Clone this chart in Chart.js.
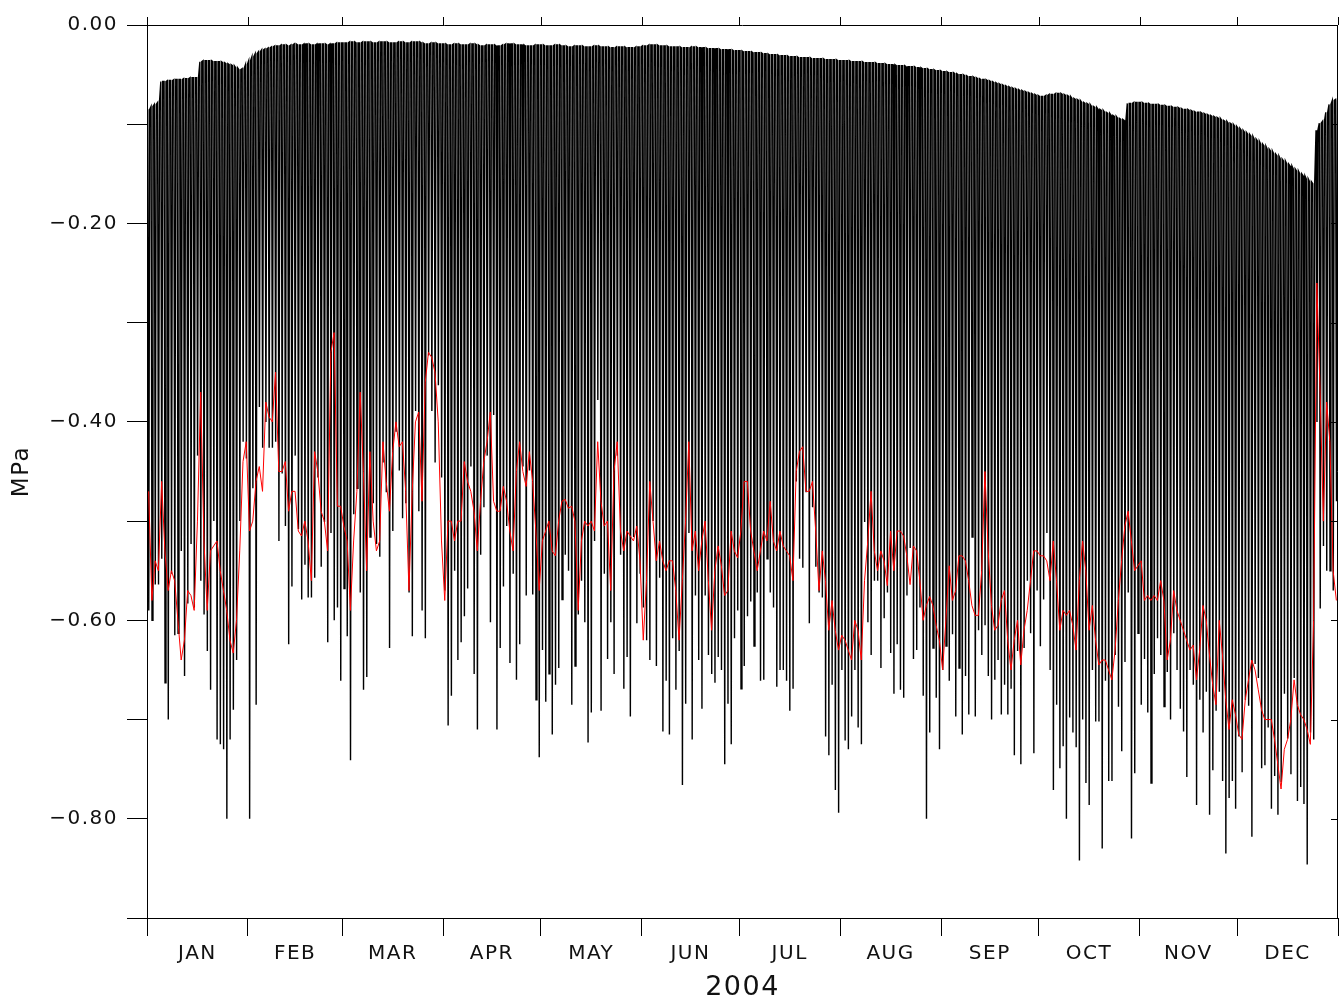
<!DOCTYPE html>
<html lang="en">
<head>
    <meta charset="UTF-8">
    <title>Water potential 2004</title>
    <script src="https://cdn.jsdelivr.net/npm/chart.js"></script>
    <style>
        body { margin: 0; background: #fff; }
        canvas { display: block; }
    </style>
</head>
<body>
    <canvas id="mpaChart" width="1340" height="1000"></canvas>

    <script>
        // axis setup: day of year 2004 (leap year)
        const monthNames = ['JAN', 'FEB', 'MAR', 'APR', 'MAY', 'JUN', 'JUL', 'AUG', 'SEP', 'OCT', 'NOV', 'DEC'];
        const monthStarts = [0, 31, 60, 91, 121, 152, 182, 213, 244, 274, 305, 335, 366];
        const yearLabel = '2004';
        const unitLabel = 'MPa';

        // hours of the daily cycle (pre-dawn max, midday min, evening recovery)
        const dawnHour = 6;
        const middayHour = 13;
        const duskHour = 20;

        // daily maximum (night) of the black series, MPa
        const dailyMax = [
            // Jan
            -0.085, -0.082, -0.080, -0.078, -0.057, -0.057, -0.056, -0.056, -0.055, -0.055,
            -0.055, -0.054, -0.054, -0.053, -0.053, -0.053, -0.037, -0.036, -0.036, -0.036,
            -0.037, -0.037, -0.037, -0.038, -0.039, -0.040, -0.041, -0.043, -0.045, -0.044, -0.040,
            // Feb
            -0.036, -0.032, -0.029, -0.027, -0.025, -0.024, -0.023, -0.022, -0.021, -0.021,
            -0.020, -0.020, -0.021, -0.020, -0.019, -0.020, -0.020, -0.019, -0.019, -0.020,
            -0.020, -0.019, -0.019, -0.019, -0.020, -0.019, -0.019, -0.018, -0.018,
            // Mar
            -0.018, -0.018, -0.017, -0.017, -0.018, -0.018, -0.017, -0.017, -0.017, -0.018,
            -0.018, -0.017, -0.017, -0.017, -0.018, -0.018, -0.018, -0.017, -0.017, -0.018,
            -0.018, -0.017, -0.017, -0.017, -0.018, -0.019, -0.019, -0.018, -0.018, -0.019, -0.019,
            // Apr
            -0.019, -0.020, -0.020, -0.019, -0.019, -0.020, -0.020, -0.020, -0.019, -0.019,
            -0.020, -0.021, -0.021, -0.020, -0.020, -0.020, -0.021, -0.021, -0.020, -0.019,
            -0.019, -0.019, -0.020, -0.020, -0.020, -0.021, -0.021, -0.021, -0.020, -0.020,
            // May
            -0.020, -0.021, -0.021, -0.021, -0.020, -0.020, -0.021, -0.021, -0.022, -0.022,
            -0.021, -0.021, -0.021, -0.022, -0.022, -0.022, -0.021, -0.021, -0.022, -0.022,
            -0.022, -0.023, -0.023, -0.022, -0.022, -0.022, -0.023, -0.023, -0.023, -0.022, -0.022,
            // Jun
            -0.021, -0.021, -0.020, -0.020, -0.020, -0.021, -0.021, -0.021, -0.022, -0.022,
            -0.022, -0.022, -0.023, -0.023, -0.023, -0.022, -0.022, -0.023, -0.023, -0.023,
            -0.024, -0.024, -0.024, -0.024, -0.025, -0.025, -0.025, -0.025, -0.026, -0.026,
            // Jul
            -0.026, -0.027, -0.027, -0.027, -0.028, -0.028, -0.028, -0.029, -0.029, -0.030,
            -0.030, -0.030, -0.031, -0.031, -0.031, -0.032, -0.032, -0.032, -0.033, -0.033,
            -0.033, -0.033, -0.034, -0.034, -0.034, -0.034, -0.035, -0.035, -0.035, -0.035, -0.036,
            // Aug
            -0.036, -0.036, -0.036, -0.037, -0.037, -0.037, -0.037, -0.038, -0.038, -0.038,
            -0.038, -0.039, -0.039, -0.039, -0.040, -0.040, -0.040, -0.041, -0.041, -0.041,
            -0.042, -0.042, -0.042, -0.043, -0.043, -0.044, -0.044, -0.045, -0.045, -0.046, -0.046,
            // Sep
            -0.047, -0.047, -0.048, -0.048, -0.049, -0.050, -0.050, -0.051, -0.052, -0.052,
            -0.053, -0.054, -0.055, -0.055, -0.056, -0.057, -0.058, -0.059, -0.060, -0.061,
            -0.062, -0.063, -0.064, -0.065, -0.066, -0.067, -0.068, -0.069, -0.070, -0.071,
            // Oct
            -0.072, -0.072, -0.071, -0.070, -0.070, -0.069, -0.069, -0.070, -0.071, -0.072,
            -0.074, -0.075, -0.076, -0.078, -0.079, -0.080, -0.082, -0.083, -0.085, -0.086,
            -0.088, -0.089, -0.091, -0.092, -0.094, -0.095, -0.096, -0.079, -0.079, -0.078, -0.078,
            // Nov
            -0.078, -0.079, -0.079, -0.080, -0.080, -0.080, -0.081, -0.081, -0.082, -0.082,
            -0.083, -0.083, -0.084, -0.085, -0.085, -0.086, -0.087, -0.088, -0.088, -0.089,
            -0.090, -0.091, -0.092, -0.093, -0.094, -0.096, -0.097, -0.099, -0.100, -0.102,
            // Dec
            -0.104, -0.106, -0.108, -0.110, -0.112, -0.115, -0.117, -0.120, -0.122, -0.125,
            -0.127, -0.130, -0.132, -0.135, -0.137, -0.140, -0.142, -0.145, -0.147, -0.150,
            -0.152, -0.155, -0.158, -0.160, -0.106, -0.099, -0.097, -0.088, -0.080, -0.076, -0.075
        ];

        // daily minimum (midday) of the black series, MPa
        const dailyMin = [
            // Jan
            -0.590, -0.600, -0.564, -0.564, -0.538, -0.663, -0.700, -0.553, -0.615, -0.613,
            -0.530, -0.656, -0.583, -0.523, -0.587, -0.434, -0.560, -0.594, -0.631, -0.670,
            -0.500, -0.720, -0.725, -0.730, -0.800, -0.720, -0.690, -0.640, -0.500, -0.420, -0.437,
            // Feb
            -0.800, -0.467, -0.685, -0.385, -0.426, -0.400, -0.426, -0.426, -0.420, -0.520,
            -0.452, -0.505, -0.624, -0.566, -0.434, -0.508, -0.579, -0.544, -0.577, -0.577,
            -0.557, -0.456, -0.546, -0.501, -0.622, -0.512, -0.600, -0.587, -0.661,
            // Mar
            -0.568, -0.616, -0.741, -0.493, -0.467, -0.572, -0.670, -0.657, -0.516, -0.482,
            -0.523, -0.536, -0.441, -0.471, -0.628, -0.510, -0.410, -0.449, -0.497, -0.482,
            -0.572, -0.616, -0.389, -0.490, -0.590, -0.618, -0.333, -0.389, -0.441, -0.363, -0.456,
            // Apr
            -0.570, -0.706, -0.676, -0.550, -0.640, -0.622, -0.596, -0.568, -0.445, -0.654,
            -0.710, -0.534, -0.486, -0.434, -0.602, -0.393, -0.710, -0.628, -0.566, -0.505,
            -0.643, -0.553, -0.660, -0.624, -0.445, -0.575, -0.449, -0.574, -0.680, -0.738,
            // May
            -0.630, -0.682, -0.654, -0.715, -0.665, -0.648, -0.579, -0.534, -0.550, -0.685,
            -0.646, -0.594, -0.560, -0.602, -0.723, -0.693, -0.520, -0.378, -0.691, -0.553,
            -0.639, -0.602, -0.654, -0.434, -0.534, -0.669, -0.637, -0.697, -0.516, -0.603, -0.553,
            // Jun
            -0.587, -0.620, -0.640, -0.500, -0.646, -0.557, -0.712, -0.661, -0.715, -0.618,
            -0.670, -0.631, -0.766, -0.684, -0.512, -0.720, -0.575, -0.640, -0.689, -0.575,
            -0.635, -0.654, -0.663, -0.637, -0.650, -0.745, -0.684, -0.725, -0.618, -0.590,
            // Jul
            -0.669, -0.646, -0.596, -0.581, -0.626, -0.572, -0.661, -0.660, -0.538, -0.572,
            -0.587, -0.667, -0.650, -0.650, -0.661, -0.691, -0.669, -0.460, -0.538, -0.547,
            -0.471, -0.603, -0.486, -0.546, -0.572, -0.577, -0.717, -0.736, -0.665, -0.771, -0.794,
            // Aug
            -0.650, -0.721, -0.730, -0.697, -0.650, -0.708, -0.725, -0.501, -0.602, -0.635,
            -0.560, -0.560, -0.648, -0.598, -0.572, -0.633, -0.674, -0.624, -0.670, -0.678,
            -0.575, -0.527, -0.639, -0.630, -0.587, -0.676, -0.800, -0.713, -0.628, -0.678, -0.730,
            // Sep
            -0.650, -0.626, -0.661, -0.614, -0.697, -0.648, -0.715, -0.656, -0.695, -0.516,
            -0.697, -0.610, -0.635, -0.605, -0.656, -0.700, -0.660, -0.640, -0.695, -0.665,
            -0.695, -0.669, -0.736, -0.631, -0.745, -0.628, -0.560, -0.613, -0.734, -0.570,
            // Oct
            -0.626, -0.579, -0.512, -0.650, -0.771, -0.685, -0.749, -0.727, -0.800, -0.698,
            -0.713, -0.728, -0.842, -0.700, -0.764, -0.786, -0.650, -0.702, -0.702, -0.830,
            -0.661, -0.762, -0.762, -0.635, -0.687, -0.732, -0.642, -0.572, -0.820, -0.754, -0.613,
            // Nov
            -0.685, -0.639, -0.693, -0.764, -0.654, -0.618, -0.635, -0.687, -0.652, -0.700,
            -0.613, -0.650, -0.689, -0.712, -0.758, -0.650, -0.665, -0.786, -0.680, -0.713,
            -0.672, -0.796, -0.751, -0.691, -0.672, -0.762, -0.835, -0.779, -0.762, -0.790,
            // Dec
            -0.717, -0.753, -0.680, -0.686, -0.818, -0.644, -0.658, -0.749, -0.746, -0.708,
            -0.790, -0.757, -0.796, -0.763, -0.674, -0.719, -0.755, -0.658, -0.782, -0.768,
            -0.785, -0.846, -0.713, -0.720, -0.400, -0.588, -0.525, -0.550, -0.550, -0.570, -0.480
        ];

        // red series, one value per day, MPa
        const redDaily = [
            // Jan
            -0.47, -0.58, -0.54, -0.55, -0.46, -0.53, -0.57, -0.55, -0.56, -0.60,
            -0.64, -0.62, -0.57, -0.575, -0.59, -0.50, -0.37, -0.52, -0.59, -0.53,
            -0.525, -0.52, -0.55, -0.57, -0.59, -0.62, -0.633, -0.60, -0.53, -0.44, -0.42,
            // Feb
            -0.51, -0.50, -0.46, -0.445, -0.47, -0.38, -0.395, -0.40, -0.35, -0.45,
            -0.45, -0.44, -0.49, -0.47, -0.47, -0.51, -0.515, -0.50, -0.52, -0.56,
            -0.43, -0.45, -0.49, -0.50, -0.53, -0.33, -0.31, -0.485, -0.485,
            // Mar
            -0.505, -0.52, -0.59, -0.52, -0.47, -0.37, -0.45, -0.55, -0.43, -0.50,
            -0.53, -0.52, -0.42, -0.46, -0.49, -0.43, -0.40, -0.425, -0.42, -0.47,
            -0.57, -0.47, -0.40, -0.39, -0.48, -0.36, -0.33, -0.335, -0.35, -0.40, -0.52,
            // Apr
            -0.58, -0.50, -0.50, -0.52, -0.50, -0.50, -0.44, -0.46, -0.47, -0.49,
            -0.53, -0.48, -0.44, -0.42, -0.39, -0.48, -0.49, -0.49, -0.465, -0.48,
            -0.51, -0.53, -0.45, -0.42, -0.45, -0.465, -0.43, -0.46, -0.51, -0.57,
            // May
            -0.52, -0.51, -0.50, -0.53, -0.535, -0.50, -0.48, -0.478, -0.487, -0.485,
            -0.50, -0.59, -0.52, -0.50, -0.505, -0.50, -0.51, -0.42, -0.48, -0.505,
            -0.50, -0.57, -0.45, -0.42, -0.51, -0.53, -0.51, -0.515, -0.52, -0.505, -0.54,
            // Jun
            -0.62, -0.56, -0.46, -0.50, -0.54, -0.52, -0.54, -0.55, -0.54, -0.54,
            -0.57, -0.62, -0.56, -0.50, -0.42, -0.53, -0.51, -0.55, -0.52, -0.50,
            -0.56, -0.61, -0.55, -0.525, -0.545, -0.575, -0.57, -0.51, -0.53, -0.537,
            // Jul
            -0.51, -0.46, -0.46, -0.51, -0.53, -0.55, -0.53, -0.51, -0.52, -0.48,
            -0.52, -0.53, -0.51, -0.525, -0.53, -0.535, -0.56, -0.45, -0.43, -0.425,
            -0.47, -0.47, -0.46, -0.51, -0.57, -0.53, -0.56, -0.61, -0.58, -0.61, -0.63,
            // Aug
            -0.615, -0.62, -0.63, -0.64, -0.60, -0.61, -0.64, -0.56, -0.52, -0.47,
            -0.53, -0.55, -0.53, -0.54, -0.565, -0.51, -0.55, -0.51, -0.51, -0.515,
            -0.535, -0.564, -0.525, -0.53, -0.56, -0.60, -0.585, -0.576, -0.585, -0.605, -0.62,
            // Sep
            -0.65, -0.60, -0.545, -0.58, -0.57, -0.535, -0.535, -0.54, -0.56, -0.585,
            -0.595, -0.595, -0.55, -0.45, -0.53, -0.585, -0.61, -0.605, -0.58, -0.57,
            -0.62, -0.65, -0.62, -0.60, -0.645, -0.61, -0.59, -0.56, -0.53, -0.53,
            // Oct
            -0.535, -0.535, -0.54, -0.56, -0.52, -0.56, -0.61, -0.59, -0.595, -0.59,
            -0.605, -0.63, -0.56, -0.52, -0.55, -0.61, -0.585, -0.62, -0.645, -0.64,
            -0.64, -0.65, -0.66, -0.63, -0.58, -0.54, -0.505, -0.49, -0.52, -0.55, -0.545,
            // Nov
            -0.54, -0.58, -0.575, -0.58, -0.575, -0.58, -0.56, -0.58, -0.64, -0.62,
            -0.57, -0.59, -0.60, -0.61, -0.62, -0.63, -0.625, -0.66, -0.63, -0.585,
            -0.60, -0.635, -0.665, -0.685, -0.60, -0.635, -0.68, -0.71, -0.68, -0.695,
            // Dec
            -0.715, -0.72, -0.68, -0.66, -0.64, -0.65, -0.67, -0.69, -0.70, -0.70,
            -0.70, -0.72, -0.745, -0.77, -0.73, -0.72, -0.70, -0.66, -0.685, -0.695,
            -0.70, -0.71, -0.725, -0.60, -0.26, -0.37, -0.50, -0.38, -0.42, -0.55, -0.58
        ];

        // black line: one dip per day from the night value down to the midday value
        const blackPoints = [];
        for (let d = 0; d < dailyMax.length; d++) {
            blackPoints.push({ x: d + dawnHour / 24, y: dailyMax[d] });
            blackPoints.push({ x: d + middayHour / 24, y: dailyMin[d] });
            blackPoints.push({ x: d + duskHour / 24, y: dailyMax[d] });
        }
        const redPoints = redDaily.map((v, d) => ({ x: d + 0.5, y: v }));

        // tick positions on the time axis: month boundaries (marks) and month centres (labels)
        const monthMids = monthNames.map((m, i) => (monthStarts[i] + monthStarts[i + 1]) / 2);
        const isBoundary = v => monthStarts.includes(v);

        function fmtMpa(v) {
            const r = Math.round(v * 100) / 100;
            if (r === 0) return '0.00';
            return '\u2212' + Math.abs(r).toFixed(2);
        }

        // wider letter spacing, like the plotting package's stroke font
        const spacingPlugin = {
            id: 'spacing',
            beforeDraw(chart) {
                chart.ctx.letterSpacing = '1.5px';
            }
        };

        // top and right frame with their ticks
        const framePlugin = {
            id: 'frame',
            afterDraw(chart) {
                const { ctx, chartArea: a, scales } = chart;
                const x = scales.x, y = scales.y;
                ctx.save();
                ctx.strokeStyle = '#000';
                ctx.lineWidth = 1;
                ctx.beginPath();
                ctx.moveTo(a.left, a.top + 0.5);
                ctx.lineTo(a.right, a.top + 0.5);
                ctx.moveTo(a.right - 0.5, a.top);
                ctx.lineTo(a.right - 0.5, a.bottom);
                monthStarts.forEach(v => {
                    const px = Math.round(x.getPixelForValue(v)) + 0.5;
                    ctx.moveTo(px, a.top);
                    ctx.lineTo(px, a.top - 8);
                });
                y.ticks.forEach(t => {
                    const py = Math.round(y.getPixelForValue(t.value)) + 0.5;
                    ctx.moveTo(a.right, py);
                    ctx.lineTo(a.right - 7, py);
                });
                ctx.stroke();
                ctx.restore();
            }
        };

        const fontFamily = "'DejaVu Sans', 'Liberation Sans', sans-serif";
        const textColor = '#111';
        const ctx = document.getElementById('mpaChart').getContext('2d');
        new Chart(ctx, {
            type: 'line',
            data: {
                datasets: [
                    {
                        label: 'red',
                        data: redPoints,
                        borderColor: '#ff0000',
                        borderWidth: 1,
                        pointRadius: 0,
                        tension: 0,
                        order: 0
                    },
                    {
                        label: 'black',
                        data: blackPoints,
                        borderColor: '#000000',
                        borderWidth: 1.4,
                        pointRadius: 0,
                        tension: 0,
                        order: 1
                    }
                ]
            },
            options: {
                responsive: false,
                devicePixelRatio: 1,
                animation: false,
                layout: { autoPadding: false, padding: { left: 0, right: 2, top: 25, bottom: 0 } },
                plugins: {
                    legend: { display: false },
                    tooltip: { enabled: false }
                },
                scales: {
                    x: {
                        type: 'linear',
                        min: 0,
                        max: 366,
                        afterBuildTicks: scale => {
                            scale.ticks = monthStarts.concat(monthMids)
                                .sort((a, b) => a - b)
                                .map(v => ({ value: v }));
                        },
                        afterFit: scale => {
                            scale.height = 82;
                            scale.paddingLeft = 0;
                            scale.paddingRight = 0;
                        },
                        ticks: {
                            autoSkip: false,
                            maxRotation: 0,
                            padding: 6,
                            color: textColor,
                            font: { family: fontFamily, size: 20 },
                            callback: v => {
                                const i = monthMids.indexOf(v);
                                return i >= 0 ? monthNames[i] : '';
                            }
                        },
                        grid: {
                            drawOnChartArea: false,
                            drawTicks: true,
                            tickLength: 18,
                            tickColor: c => (c.tick && isBoundary(c.tick.value) ? '#000' : 'rgba(0,0,0,0)'),
                            color: '#000'
                        },
                        border: { display: true, color: '#000', width: 1 },
                        title: {
                            display: true,
                            text: yearLabel,
                            color: textColor,
                            font: { family: fontFamily, size: 27, lineHeight: 0.9 },
                            padding: { top: 0, bottom: 0 }
                        }
                    },
                    y: {
                        type: 'linear',
                        min: -0.9,
                        max: 0,
                        afterFit: scale => {
                            scale.width = 147;
                            scale.paddingTop = 0;
                            scale.paddingBottom = 0;
                        },
                        ticks: {
                            stepSize: 0.1,
                            padding: 9,
                            color: textColor,
                            font: { family: fontFamily, size: 20 },
                            callback: v => {
                                const k = Math.round(-v * 10);
                                return k % 2 === 0 ? fmtMpa(v) : '';
                            }
                        },
                        grid: {
                            drawOnChartArea: false,
                            drawTicks: true,
                            tickLength: 20,
                            color: '#000'
                        },
                        border: { display: true, color: '#000', width: 1 },
                        title: {
                            display: true,
                            text: unitLabel,
                            color: textColor,
                            font: { family: fontFamily, size: 23 },
                            padding: { top: 8, bottom: 0 }
                        }
                    }
                }
            },
            plugins: [spacingPlugin, framePlugin]
        });
    </script>
</body>
</html>
